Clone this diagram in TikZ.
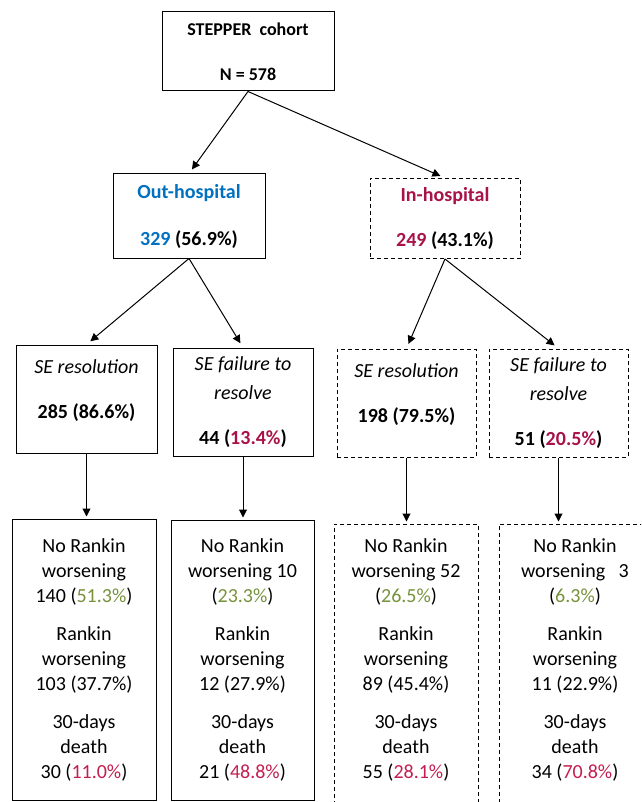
\documentclass[tikz,border=0pt]{standalone}
\usepackage{fontspec}
\setmainfont{Carlito}
\usetikzlibrary{arrows.meta}
\definecolor{outblue}{RGB}{0,112,192}
\definecolor{inred}{RGB}{168,18,72}
\definecolor{pctgreen}{RGB}{118,146,60}
\definecolor{pctred}{RGB}{196,30,80}
\begin{document}
\begin{tikzpicture}[x=1pt,y=-1pt,
	every node/.style={draw,line width=1pt,align=center,inner sep=2pt},
	inhosp/.style={dash pattern=on 4pt off 3pt},
	head/.style={font=\fontsize{20}{25}\selectfont\bfseries},
	branch/.style={font=\fontsize{20}{25}\selectfont},
	link/.style={line width=1pt,-{Triangle[length=8pt,width=8pt]},shorten >=5pt}]
	\clip (0,0) rectangle (641,802);

	\node[head,font=\fontsize{18}{22}\selectfont\bfseries,minimum width=172pt,minimum height=79pt] at (248,51.5) (top) {STEPPER\ \ cohort\\[23pt]N = 578};
	\node[head,minimum width=152pt,minimum height=84pt] at (189,216) (out) {\textcolor{outblue}{Out-hospital}\\[22pt]\textcolor{outblue}{329} (56.9\%)};
	\node[head,inhosp,minimum width=150pt,minimum height=80pt] at (445,218.5) (in) {\textcolor{inred}{In-hospital}\\[20pt]\textcolor{inred}{249} (43.1\%)};

	\node[branch,minimum width=141pt,minimum height=108pt] at (86.5,399) (res1) {\textit{SE resolution}\\[20pt]\textbf{285 (86.6\%)}\\[-6pt]\mbox{}};
	\node[branch,minimum width=140pt,minimum height=108pt] at (243,402) (fail1) {\textit{SE failure to}\\[4pt]\textit{resolve}\\[20pt]\textbf{44 (\textcolor{inred}{13.4\%})}};
	\node[branch,inhosp,minimum width=139pt,minimum height=108pt] at (406.5,403) (res2) {\textit{SE resolution}\\[20pt]\textbf{198 (79.5\%)}\\[-6pt]\mbox{}};
	\node[branch,inhosp,minimum width=139pt,minimum height=108pt] at (558.5,403) (fail2) {\textit{SE failure to}\\[4pt]\textit{resolve}\\[20pt]\textbf{51 (\textcolor{inred}{20.5\%})}};

	\node[branch,minimum width=144pt,minimum height=281pt] at (84,659.5) (out1) {No Rankin\\worsening\\140 (\textcolor{pctgreen}{51.3\%})\\[13pt]Rankin\\worsening\\103 (37.7\%)\\[13pt]30-days\\death\\30 (\textcolor{pctred}{11.0\%})};
	\node[branch,minimum width=143pt,minimum height=280pt] at (242.5,660) (out2) {No Rankin\\worsening 10\\(\textcolor{pctgreen}{23.3\%})\\[13pt]Rankin\\worsening\\12 (27.9\%)\\[13pt]30-days\\death\\21 (\textcolor{pctred}{48.8\%})};
	\node[branch,inhosp,minimum width=144pt,minimum height=296pt] at (406,672) (out3) {No Rankin\\worsening 52\\(\textcolor{pctgreen}{26.5\%})\\[13pt]Rankin\\worsening\\89 (45.4\%)\\[13pt]30-days\\death\\55 (\textcolor{pctred}{28.1\%})\\[1pt]\mbox{}};
	\node[branch,inhosp,minimum width=152pt,minimum height=296pt] at (575,672) (out4) {No Rankin\\worsening\ \ \ 3\\(\textcolor{pctgreen}{6.3\%})\\[13pt]Rankin\\worsening\\11 (22.9\%)\\[13pt]30-days\\death\\34 (\textcolor{pctred}{70.8\%})\\[1pt]\mbox{}};

	\draw[link] (top.south) -- (out.north);
	\draw[link] (top.south) -- (in.north);
	\draw[link] (out.south) -- (res1.north);
	\draw[link] (out.south) -- (fail1.north);
	\draw[link] (in.south) -- (res2.north);
	\draw[link] (in.south) -- (fail2.north);
	\draw[link,shorten >=2pt] (res1.south) -- (res1.south |- out1.north);
	\draw[link,shorten >=2pt] (fail1.south) -- (fail1.south |- out2.north);
	\draw[link,shorten >=2pt] (res2.south) -- (res2.south |- out3.north);
	\draw[link,shorten >=2pt] (fail2.south) -- (fail2.south |- out4.north);
\end{tikzpicture}
\end{document}
